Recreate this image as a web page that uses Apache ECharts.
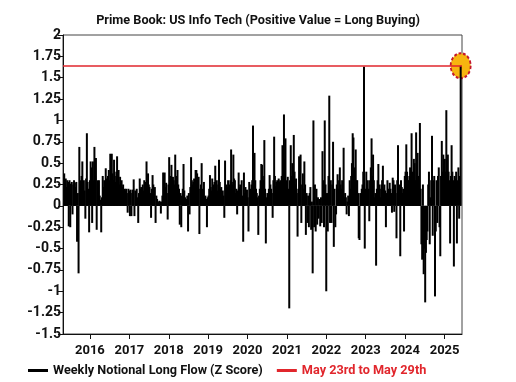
<!DOCTYPE html>
<html>
<head>
<meta charset="utf-8">
<script src="https://cdn.jsdelivr.net/npm/echarts@6/dist/echarts.min.js"></script>
<style>
html,body{margin:0;padding:0;background:#fff;}
#c{width:516px;height:382px;}
</style>
</head>
<body>
<div id="c"></div>
<script>
// ---- data ----
const chartTitle = 'Prime Book: US Info Tech (Positive Value = Long Buying)';
const flowName = 'Weekly Notional Long Flow (Z Score)';
const windowName = 'May 23rd to May 29th';
const firstWeek = '2015-05-08';      // first weekly observation
const axisStart = '2015-05-06';
const axisEnd = '2025-06-02';
const yMin = -1.5, yMax = 2, yStep = 0.25;
// weekly z-scores (one per week, 2015-05-08 .. 2025-05-30)
const weeklyZ = [
 0.38, 0.30, 0.32, 0.22, 0.30, 0.28, -0.24, 0.30, -0.25, 0.26,
 0.28, -0.10, 0.25, 0.30, 0.27, 0.22, 0.28, -0.42, 0.15, -0.79,
 0.69, 0.30, 0.22, 0.35, 0.52, 0.25, 0.30, 0.18, -0.15, 0.32,
 0.85, 0.28, 0.20, -0.31, 0.30, 0.52, 0.45, -0.20, 0.52, 0.30,
 0.69, 0.35, 0.56, -0.28, 0.30, 0.25, 0.30, 0.12, 0.07, -0.31,
 0.10, 0.35, 0.22, 0.30, 0.28, 0.44, 0.32, 0.25, 0.35, 0.42,
 0.30, 0.61, 0.45, 0.61, 0.38, 0.30, 0.54, 0.35, 0.28, 0.40,
 0.58, 0.30, 0.42, 0.25, 0.34, 0.28, 0.30, 0.22, 0.25, 0.19,
 0.20, 0.18, 0.20, 0.15, -0.08, 0.20, 0.18, -0.12, 0.19, -0.12,
 0.15, 0.19, 0.31, -0.12, 0.18, 0.15, 0.20, 0.10, -0.20, 0.15,
 0.32, 0.20, 0.22, 0.15, 0.25, 0.18, 0.30, 0.22, 0.28, 0.52,
 0.30, 0.38, 0.25, 0.22, 0.15, -0.14, 0.20, 0.36, 0.25, 0.18,
 0.22, -0.20, 0.12, 0.08, 0.05, 0.04, 0.06, 0.05, -0.09, 0.05,
 0.12, 0.39, 0.30, 0.39, 0.22, 0.27, 0.15, -0.16, 0.25, 0.57,
 0.30, 0.35, 0.48, 0.28, 0.34, 0.30, 0.25, 0.60, 0.35, 0.28,
 0.42, 0.25, 0.20, -0.22, 0.15, -0.25, 0.12, 0.20, 0.49, 0.18,
 0.10, 0.05, 0.08, 0.12, -0.30, 0.15, -0.10, 0.22, 0.57, 0.30,
 0.25, 0.28, 0.32, 0.22, 0.42, 0.42, 0.38, 0.25, 0.34, -0.33,
 0.20, 0.25, 0.50, 0.20, 0.18, 0.28, 0.10, 0.12, 0.08, -0.25,
 0.10, 0.12, 0.20, 0.36, 0.22, 0.18, 0.32, 0.25, 0.20, 0.28,
 0.47, 0.22, 0.30, 0.18, 0.25, 0.54, 0.28, 0.20, 0.22, 0.15,
 0.18, 0.12, -0.14, 0.53, 0.20, 0.25, 0.22, 0.30, 0.18, 0.25,
 0.30, 0.66, 0.28, 0.25, 0.60, 0.32, 0.30, 0.15, 0.20, -0.10,
 0.18, 0.39, 0.22, 0.25, 0.20, 0.30, 0.12, -0.42, 0.39, 0.15,
 0.22, 0.18, 0.19, 0.10, -0.30, 0.28, 0.20, 0.15, 0.25, 0.30,
 0.94, 0.35, 0.62, 0.30, 0.20, 0.15, 0.10, -0.34, 0.12, 0.20,
 0.30, 0.49, 0.48, 0.35, 0.30, 0.77, 0.20, -0.44, 0.10, 0.15,
 0.03, 0.20, 0.36, 0.25, 0.20, 0.15, -0.14, 0.30, 0.81, 0.35,
 0.23, 0.28, 0.30, 0.25, 0.32, 0.28, 0.30, 0.22, 0.35, 0.71,
 0.40, 1.07, 0.55, 0.79, 0.30, 0.25, 0.34, 0.20, -1.20, 0.30,
 0.71, 0.35, 0.50, 0.30, 0.83, 0.40, 0.25, 0.32, 0.15, -0.36,
 0.20, 0.58, 0.35, 0.60, -0.20, 0.25, 0.38, 0.20, 0.52, 0.25,
 -0.34, 0.15, -0.20, 0.12, -0.25, 0.15, 0.22, -0.28, 0.05, -0.79,
 1.00, -0.25, 0.25, -0.30, 0.20, -0.22, 0.10, -0.15, 0.08, -0.24,
 0.10, -0.20, 0.64, 0.30, -0.25, 1.00, 0.25, -1.00, 0.15, -0.30,
 0.35, 1.29, -0.20, 0.30, -0.20, 0.25, 0.75, -0.48, 0.20, -0.25,
 -0.10, 0.25, 0.37, 0.20, 0.30, 0.45, 0.25, 0.20, 0.30, 0.15,
 0.68, 0.10, 0.15, 0.10, -0.10, 0.05, 0.12, -0.12, 0.30, 0.20,
 0.35, 0.50, 0.85, 0.80, 0.40, 0.45, 0.66, 0.30, 0.30, 0.15,
 -0.38, -0.40, 0.15, 0.10, 0.20, 0.25, 0.40, 1.63, -0.50, 0.20,
 0.40, 0.25, 0.30, 0.20, -0.18, 0.30, 0.45, 0.79, 0.35, 0.60,
 0.30, 0.10, 0.15, -0.70, 0.20, 0.30, 0.49, 0.25, 0.20, 0.10,
 0.25, 0.30, 0.47, 0.20, 0.25, 0.18, -0.25, 0.15, 0.30, 0.20,
 0.19, 0.27, 0.20, 0.15, -0.08, 0.33, 0.30, -0.07, 0.25, 0.15,
 -0.38, 0.30, 0.71, 0.20, 0.25, -0.59, 0.30, 0.22, 0.15, 0.20,
 -0.30, 0.35, 0.40, 0.72, 0.40, 0.30, 0.30, 0.35, 0.45, 0.30,
 0.85, 0.40, 0.35, 0.55, 0.50, 0.30, 0.86, 0.40, 0.62, 0.35,
 0.30, 0.97, 0.20, -0.45, -0.63, 0.25, -0.80, -0.50, -1.13, -0.55,
 -0.40, -0.30, 0.25, 0.40, -0.45, 0.10, 0.30, 0.82, -0.35, 0.30,
 0.35, -1.06, -0.30, 0.30, -0.20, 0.35, 0.45, -0.25, -0.59, 0.35,
 0.76, 0.40, 0.60, 0.35, 0.55, 0.40, 1.12, 0.35, 0.60, 0.40,
 0.30, -0.44, 0.35, 0.71, 0.40, 0.30, -0.71, 0.35, 0.32, 0.40,
 -0.44, 0.30, 0.45, -0.15, 0.35, 1.64
];

// ---- build ----
const DAY = 86400000;
const t0 = Date.parse(firstWeek + 'T00:00:00Z');
const weekDates = weeklyZ.map((v, i) => t0 + i * 7 * DAY);
const flowData = weeklyZ.map((v, i) => [weekDates[i], v]);
const lastPoint = flowData[flowData.length - 1];

const FONT = "Roboto, 'Liberation Sans', sans-serif";
const RED = '#E1262C';

const chart = echarts.init(document.getElementById('c'), null, {renderer: 'canvas'});
chart.setOption({
  animation: false,
  backgroundColor: '#fff',
  title: {
    text: chartTitle, left: 'center', top: 9,
    textStyle: {fontFamily: FONT, fontWeight: 'bold', fontSize: 12.7, color: '#111'}
  },
  legend: {
    left: 23, top: 359, width: 480, itemWidth: 20, itemHeight: 3, itemGap: 14,
    textStyle: {fontFamily: FONT, fontWeight: 'bold', fontSize: 12.7},
    data: [
      {name: flowName, icon: 'rect', itemStyle: {color: '#000'}, textStyle: {color: '#111'}},
      {name: windowName, icon: 'rect', itemStyle: {color: RED}, textStyle: {color: RED}}
    ]
  },
  grid: {left: 63, right: 54, top: 35, bottom: 48, show: true, borderColor: '#444', borderWidth: 1},
  xAxis: {
    type: 'time',
    min: Date.parse(axisStart + 'T00:00:00Z'),
    max: Date.parse(axisEnd + 'T00:00:00Z'),
    minInterval: 365 * DAY, maxInterval: 366 * DAY,
    axisLine: {onZero: false, lineStyle: {color: '#111', width: 1}},
    axisTick: {show: true, length: 5, lineStyle: {color: '#111'}},
    splitLine: {show: false},
    axisLabel: {
      formatter: '{yyyy}', showMinLabel: false, showMaxLabel: false,
      fontFamily: FONT, fontWeight: 'bold', fontSize: 13, color: '#111', margin: 10
    }
  },
  yAxis: {
    type: 'value', min: yMin, max: yMax, interval: yStep,
    axisLine: {show: true, lineStyle: {color: '#111', width: 1}},
    axisTick: {show: true, length: 5, lineStyle: {color: '#111'}},
    splitLine: {show: false},
    axisLabel: {
      formatter: v => String(v),
      fontFamily: FONT, fontWeight: 'bold', fontSize: 14, color: '#111', margin: 2
    }
  },
  series: [
    {
      name: 'circle', type: 'scatter', z: 1, silent: true,
      data: [lastPoint], symbol: 'circle', symbolSize: [20, 25],
      itemStyle: {color: '#F7B50F', borderColor: '#C4172C', borderWidth: 2, borderType: [3, 2], opacity: 1}
    },
    {
      name: flowName, type: 'bar', z: 2, data: flowData, barWidth: 2, large: false,
      itemStyle: {color: '#000'}, silent: true
    },
    {
      name: windowName, type: 'line', z: 3, data: [lastPoint], symbol: 'none',
      lineStyle: {color: RED}, itemStyle: {color: RED}, silent: true,
      markLine: {
        symbol: 'none', silent: true, label: {show: false},
        lineStyle: {color: RED, width: 1.5, type: 'solid'},
        data: [{yAxis: lastPoint[1]}]
      }
    }
  ]
});
</script>
</body>
</html>
